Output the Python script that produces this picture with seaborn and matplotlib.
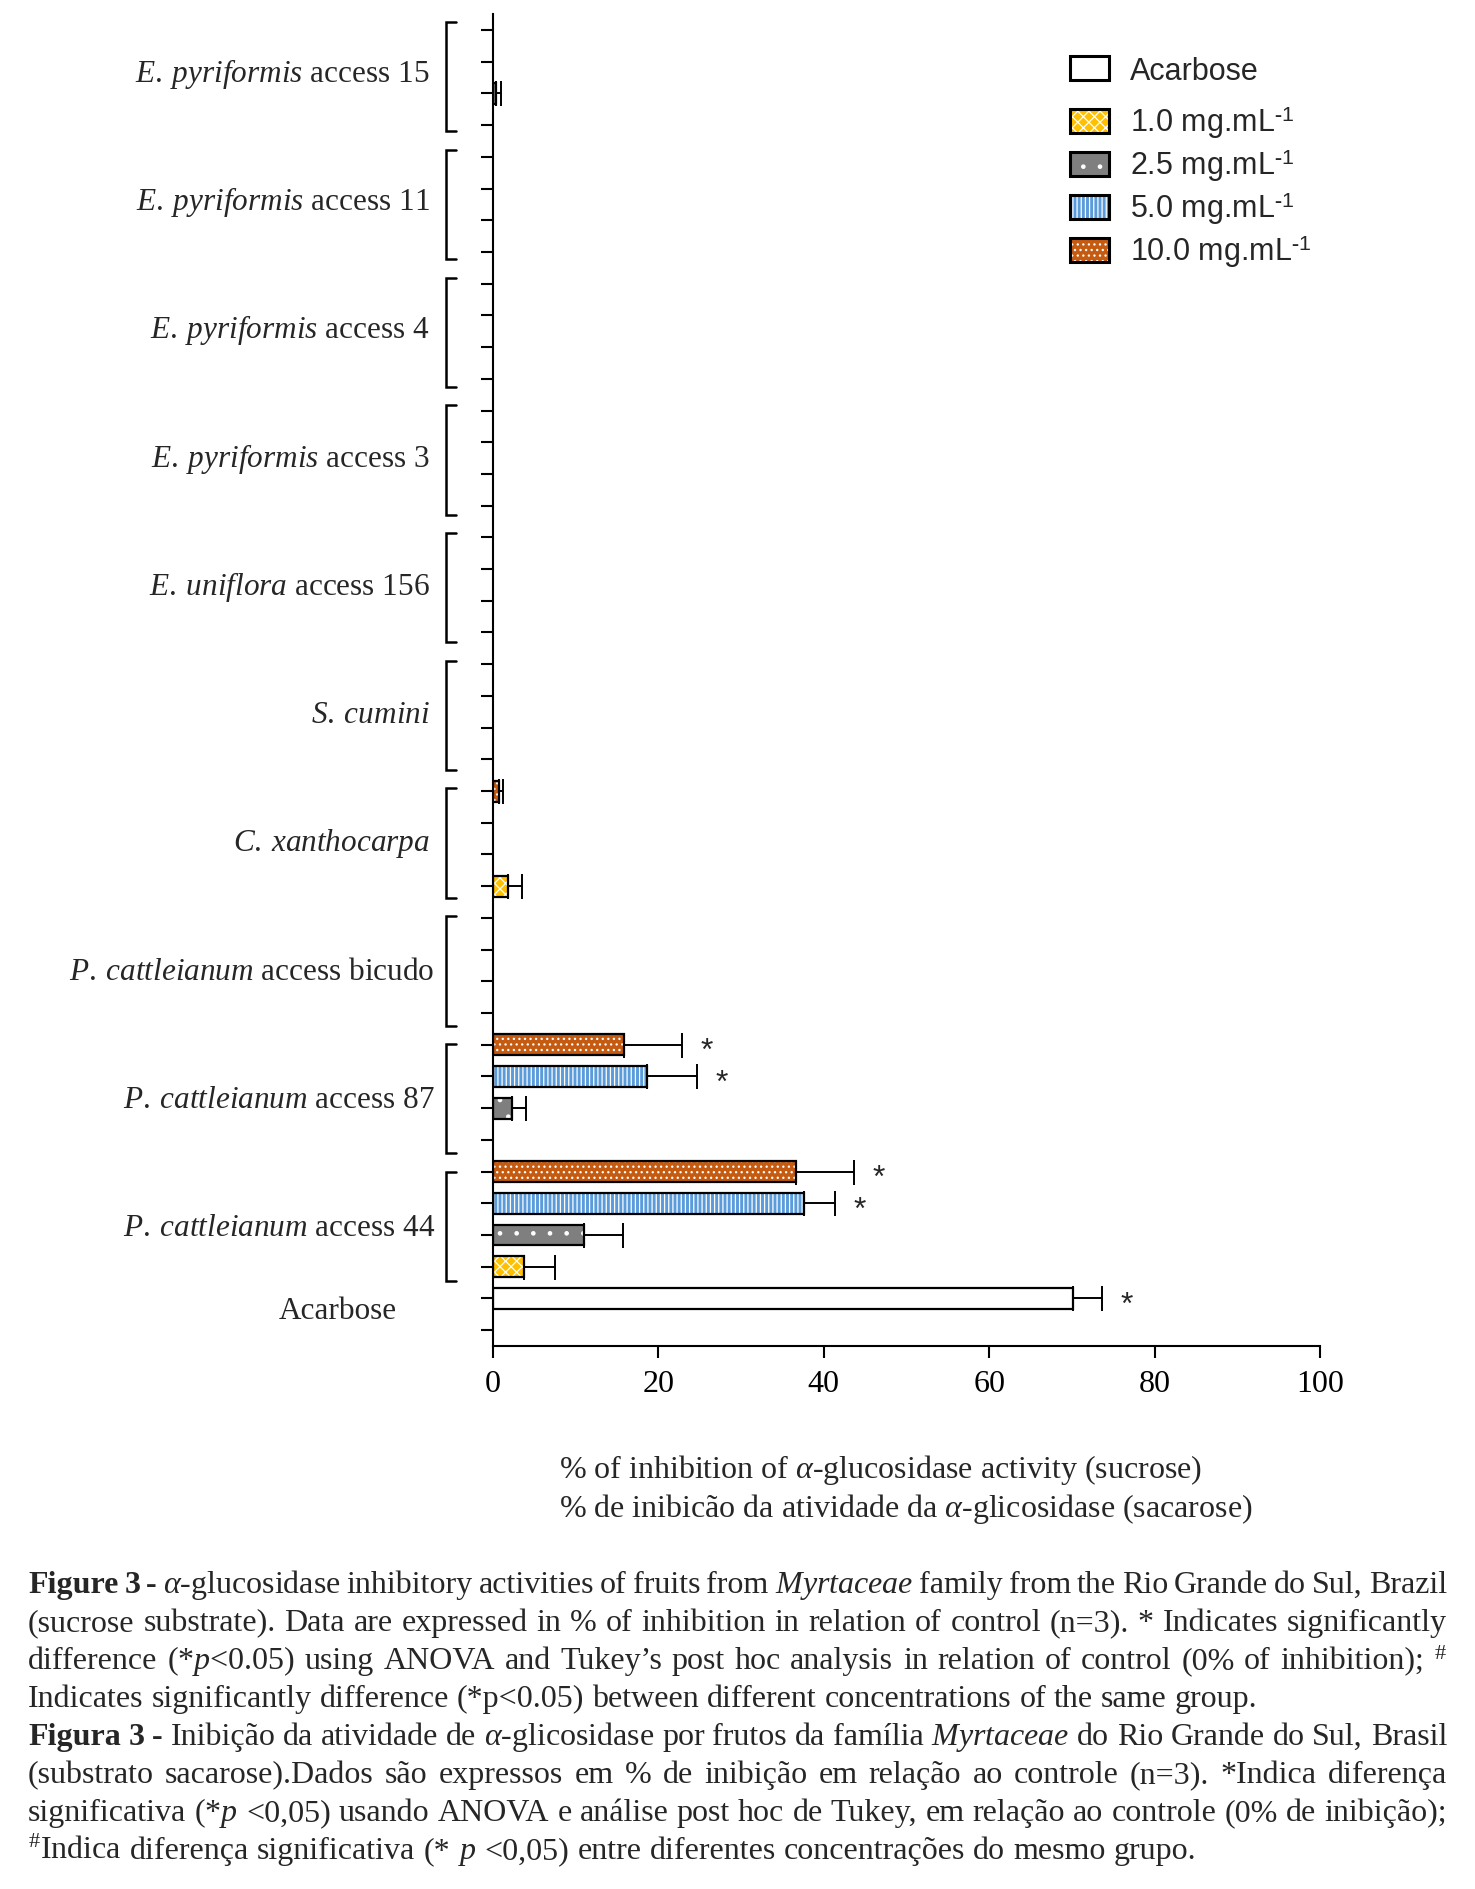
import numpy as np
import pandas as pd
import matplotlib
matplotlib.use('Agg')
import matplotlib.pyplot as plt
import seaborn as sns
from matplotlib.patches import Patch, Rectangle
from matplotlib.colors import to_hex
from matplotlib.transforms import blended_transform_factory

sns.set_theme(style='ticks')
plt.rcParams['font.family'] = ['Liberation Serif', 'DejaVu Serif']
plt.rcParams['mathtext.fontset'] = 'custom'
plt.rcParams['mathtext.rm'] = 'Liberation Serif'
plt.rcParams['mathtext.it'] = 'Liberation Serif:italic'
plt.rcParams['mathtext.bf'] = 'Liberation Serif:bold'
plt.rcParams['mathtext.sf'] = 'Liberation Sans'
plt.rcParams['hatch.linewidth'] = 0.9

# groups from top to bottom of the chart
species = ['E. pyriformis', 'E. pyriformis', 'E. pyriformis', 'E. pyriformis', 'E. uniflora',
           'S. cumini', 'C. xanthocarpa', 'P. cattleianum', 'P. cattleianum', 'P. cattleianum']
suffix = ['access 15', 'access 11', 'access 4', 'access 3', 'access 156',
          '', '', 'access bicudo', 'access 87', 'access 44']
concs = ['1.0', '2.5', '5.0', '10.0']

# % inhibition (mean) and error per concentration, aligned with the groups above
inh_1_0 = [0, 0, 0, 0, 0, 0, 1.8, 0, 0, 3.8]
err_1_0 = [0, 0, 0, 0, 0, 0, 1.7, 0, 0, 3.7]
sig_1_0 = [0, 0, 0, 0, 0, 0, 0, 0, 0, 0]
inh_2_5 = [0.4, 0, 0, 0, 0, 0, 0, 0, 2.3, 11.0]
err_2_5 = [0.6, 0, 0, 0, 0, 0, 0, 0, 1.7, 4.7]
sig_2_5 = [0, 0, 0, 0, 0, 0, 0, 0, 0, 0]
inh_5_0 = [0, 0, 0, 0, 0, 0, 0, 0, 18.6, 37.6]
err_5_0 = [0, 0, 0, 0, 0, 0, 0, 0, 6.1, 3.7]
sig_5_0 = [0, 0, 0, 0, 0, 0, 0, 0, 1, 1]
inh_10_0 = [0, 0, 0, 0, 0, 0, 0.7, 0, 15.9, 36.7]
err_10_0 = [0, 0, 0, 0, 0, 0, 0.55, 0, 6.9, 7.0]
sig_10_0 = [0, 0, 0, 0, 0, 0, 0, 0, 1, 1]
acarbose_inh = 70.1
acarbose_err = 3.5
acarbose_sig = 1

palette = {'1.0': '#FFC000', '2.5': '#7F7F7F', '5.0': '#5A9BDB', '10.0': '#C55A11', 'Acarbose': '#FFFFFF'}
hatches = {'1.0': 'xxx', '2.5': '.', '5.0': '||||', '10.0': '...', 'Acarbose': ''}
sup = '$^{\\text{-}\\mathsf{1}}$'
legend_labels = {c: f'{c} mg.mL{sup}' for c in concs}

caption = [
    ("!!Figure !!3 !!- $\\mathit{\\alpha}$-glucosidase inhibitory activities of fruits from $\\mathit{Myrtaceae}$ family from the Rio Grande do Sul, Brazil", True),
    ("(sucrose substrate). Data are expressed in % of inhibition in relation of control (n=3). * Indicates significantly", True),
    ("difference (*$\\mathit{p}$<0.05) using ANOVA and Tukey\u2019s post hoc analysis in relation of control (0% of inhibition); $^{\\#}$", True),
    ("Indicates significantly difference (*p<0.05) between different concentrations of the same group.", False),
    ("!!Figura !!3 !!- Inibição da atividade de $\\mathit{\\alpha}$-glicosidase por frutos da família $\\mathit{Myrtaceae}$ do Rio Grande do Sul, Brasil", True),
    ("(substrato sacarose).Dados são expressos em % de inibição em relação ao controle (n=3). *Indica diferença", True),
    ("significativa (*$\\mathit{p}$ <0,05) usando ANOVA e análise post hoc de Tukey, em relação ao controle (0% de inibição);", True),
    ("$^{\\#}$Indica diferença significativa (* $\\mathit{p}$ <0,05) entre diferentes concentrações do mesmo grupo.", False),
]

# ---- build the table of bars ----
series = {'1.0': (inh_1_0, err_1_0, sig_1_0), '2.5': (inh_2_5, err_2_5, sig_2_5),
          '5.0': (inh_5_0, err_5_0, sig_5_0), '10.0': (inh_10_0, err_10_0, sig_10_0)}
slot_order = []
rows = []
for g in range(len(species)):
    for c in reversed(concs):
        slot = f'{g}|{c}'
        slot_order.append(slot)
        vals, errs, sigs = series[c]
        if vals[g] > 0:
            rows.append(dict(slot=slot, conc=c, value=vals[g], err=errs[g], sig=sigs[g]))
slot_order.append('Acarbose')
rows.append(dict(slot='Acarbose', conc='Acarbose', value=acarbose_inh, err=acarbose_err, sig=acarbose_sig))
slot_order.append('blank')
df = pd.DataFrame(rows)
df['pos'] = df['slot'].map({s: i for i, s in enumerate(slot_order)})

FS = 23
fig = plt.figure(figsize=(14.75, 18.9), dpi=100)
ax = fig.add_axes([0.3342, 0.2873, 0.5607, 0.7047])

sns.barplot(data=df, x='value', y='slot', hue='conc', order=slot_order,
            hue_order=concs + ['Acarbose'], palette=palette, dodge=False, orient='h',
            width=0.66, errorbar=None, legend=False, saturation=1, linewidth=0, ax=ax)

conc_of = {to_hex(v): k for k, v in palette.items()}
for bar in list(ax.patches):
    k = conc_of.get(to_hex(bar.get_facecolor()))
    if k is None:
        continue
    bar.set_hatch(hatches[k])
    bar.set_edgecolor('white')
    bar.set_linewidth(0)
    ax.add_patch(Rectangle((bar.get_x(), bar.get_y()), bar.get_width(), bar.get_height(),
                           fill=False, edgecolor='black', lw=1.6, zorder=bar.get_zorder() + 0.1))

ax.errorbar(df['value'], df['pos'], xerr=[np.zeros(len(df)), df['err']], fmt='none',
            ecolor='black', elinewidth=1.4, capsize=9, capthick=1.4, zorder=0.9)
for _, r in df[df['sig'] == 1].iterrows():
    ax.text(r['value'] + r['err'] + 3, r['pos'] + 0.45, '*', ha='center', va='baseline',
            fontsize=FS, family='Liberation Sans')

# group brackets and labels
trans = blended_transform_factory(ax.transAxes, ax.transData)
for g in range(len(species)):
    top = 4 * g - 0.25 + 0.028 * g
    bot = top + 3.45
    ax.plot([-0.0448, -0.0569, -0.0569, -0.0448], [top, top, bot, bot], transform=trans,
            clip_on=False, color='black', lw=1.8, solid_joinstyle='miter')
    sp = species[g].replace(' ', '\\:')
    label = f'$\\mathit{{{sp}}}$' + (f' {suffix[g]}' if suffix[g] else '')
    xr = -0.0702 if species[g].startswith('P.') else -0.0763
    ax.text(xr, 4 * g + 1.5 + 0.1 + 0.045 * g, label, transform=trans, ha='right',
            va='baseline', fontsize=22.5)
ax.text(-0.188, slot_order.index('Acarbose') + 0.62, 'Acarbose', transform=trans,
        ha='center', va='baseline', fontsize=22.5)

ax.set_ylim(len(slot_order) - 0.5, -0.5)
ax.set_xlim(0, 100)
ax.set_xticks(np.arange(0, 101, 20))
ax.set_xlabel('')
ax.set_ylabel('')
ax.tick_params(axis='x', labelsize=FS, length=8.6, width=1.5, pad=8, direction='out', colors='black')
ax.tick_params(axis='y', length=8.6, width=1.5, direction='out', labelleft=False, colors='black')
sns.despine(ax=ax)
for s in ['left', 'bottom']:
    ax.spines[s].set_linewidth(1.5)
    ax.spines[s].set_color('black')

# legends
lkw = dict(loc='upper left', frameon=False, prop={'family': 'Liberation Sans', 'size': 22},
           handlelength=1.27, handleheight=0.85, handletextpad=0.7, borderpad=0, borderaxespad=0)
fig.legend([Patch(facecolor='white', edgecolor='black', lw=2.2)], ['Acarbose'],
           bbox_to_anchor=(0.7254, 0.970), **lkw)
handles = [(Patch(facecolor=palette[c], hatch=hatches[c], edgecolor='white', lw=0),
            Patch(facecolor='none', edgecolor='black', lw=2.2)) for c in concs]
fig.legend(handles, [legend_labels[c] for c in concs], bbox_to_anchor=(0.7254, 0.9447),
           labelspacing=0.2, **lkw)

# x-axis title (two languages)
fig.text(559 / 1475, 1 - 1478 / 1890, '% of inhibition of $\\mathit{\\alpha}$-glucosidase activity (sucrose)',
         fontsize=FS, va='baseline')
fig.text(559 / 1475, 1 - 1517 / 1890, '% de inibicão da atividade da $\\mathit{\\alpha}$-glicosidase (sacarose)',
         fontsize=FS, va='baseline')

# justified caption
renderer = fig.canvas.get_renderer()
W = fig.bbox.width
x0, x1 = 28 / 1475, 1447 / 1475
CFS = 23
space = 0.25 * CFS / 72 * fig.dpi / W
for i, (line, justify) in enumerate(caption):
    yb = 1 - (1593 + 38.0 * i) / 1890
    arts = []
    for w in line.split(' '):
        bold = w.startswith('!!')
        if bold:
            w = w[2:]
        arts.append(fig.text(0, yb, w, fontsize=CFS, va='baseline', ha='left',
                             fontweight='bold' if bold else 'normal'))
    widths = [a.get_window_extent(renderer).width / W for a in arts]
    gap = (x1 - x0 - sum(widths)) / (len(arts) - 1) if justify else space
    x = x0
    for a, wd in zip(arts, widths):
        a.set_x(x)
        x += wd + gap

fig.savefig('out.png', dpi=100, facecolor='white')
